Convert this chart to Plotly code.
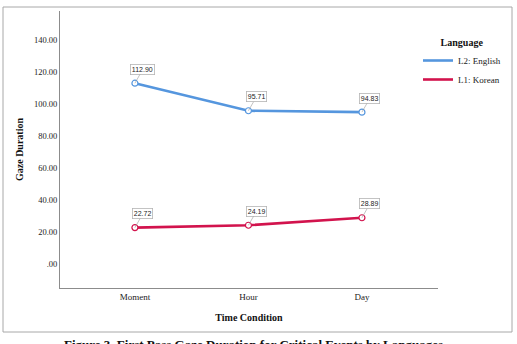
import plotly.graph_objects as go

categories = ["Moment", "Hour", "Day"]
english = [112.90, 95.71, 94.83]
korean = [22.72, 24.19, 28.89]
series_names = ["L2: English", "L1: Korean"]
y_ticks = [0, 20, 40, 60, 80, 100, 120, 140]
y_tick_labels = [".00", "20.00", "40.00", "60.00", "80.00", "100.00", "120.00", "140.00"]

BLUE = "#5596DE"
RED = "#D2134D"
SERIF = "Liberation Serif, Times New Roman, serif"
SANS = "Liberation Sans, Arial, sans-serif"

W, H = 517, 344
L, R, T, B = 60, 79, 11, 56
pw, ph = W - L - R, H - T - B

def px_x(x):
    return (x - L) / pw

def px_y(y):
    return (H - B - y) / ph

fig = go.Figure()
for name, vals, col in [(series_names[0], english, BLUE), (series_names[1], korean, RED)]:
    fig.add_trace(go.Scatter(
        x=categories, y=vals, name=name, mode="lines",
        line=dict(color=col, width=2.6),
    ))
    fig.add_trace(go.Scatter(
        x=categories, y=vals, name=name, mode="markers", showlegend=False,
        marker=dict(symbol="circle", size=6, color="white", line=dict(color=col, width=1.2)),
    ))
    for c, v in zip(categories, vals):
        fig.add_annotation(
            x=c, y=v, text=f"{v:.2f}", showarrow=True, arrowhead=0,
            arrowwidth=0.6, arrowcolor="#9a9a9a", ax=8, ay=-14,
            font=dict(family=SANS, size=7, color="#222"),
            bgcolor="white", bordercolor="#b5b5b5", borderwidth=0.8, borderpad=1,
        )

fig.add_shape(type="rect", xref="paper", yref="paper",
              x0=px_x(3), x1=px_x(512), y0=px_y(332), y1=px_y(7),
              line=dict(color="#a8a8a8", width=1), layer="below")

fig.add_annotation(xref="paper", yref="paper", x=px_x(253), y=px_y(335),
                   xanchor="center", yanchor="top", showarrow=False,
                   text="<b>Figure 3. First Pass Gaze Duration for Critical Events by Languages</b>",
                   font=dict(family=SERIF, size=13, color="#111"))

fig.update_layout(
    width=W, height=H,
    margin=dict(l=L, r=R, t=T, b=B),
    paper_bgcolor="white", plot_bgcolor="white",
    showlegend=True,
    legend=dict(
        x=px_x(418), y=px_y(33), xanchor="left", yanchor="top",
        bgcolor="rgba(0,0,0,0)", itemwidth=30, tracegroupgap=0,
        font=dict(family=SERIF, size=9, color="#222"),
        title=dict(text="<b>Language</b>", side="top center",
                   font=dict(family=SERIF, size=10, color="#111")),
    ),
    xaxis=dict(
        type="category", range=[-0.66, 2.67], showgrid=False, zeroline=False,
        showline=True, linecolor="#8c8c8c", linewidth=1, ticks="",
        tickfont=dict(family=SERIF, size=9, color="#222"),
        title=dict(text="<b>Time Condition</b>", font=dict(family=SERIF, size=10, color="#111"), standoff=13),
    ),
    yaxis=dict(
        range=[-15, 158], showgrid=False, zeroline=False,
        showline=True, linecolor="#8c8c8c", linewidth=1, ticks="",
        tickvals=y_ticks, ticktext=y_tick_labels,
        tickfont=dict(family=SERIF, size=8.5, color="#222"),
        title=dict(text="<b>Gaze Duration</b>", font=dict(family=SERIF, size=10, color="#111"), standoff=8),
    ),
)

fig.write_html("out.html")
